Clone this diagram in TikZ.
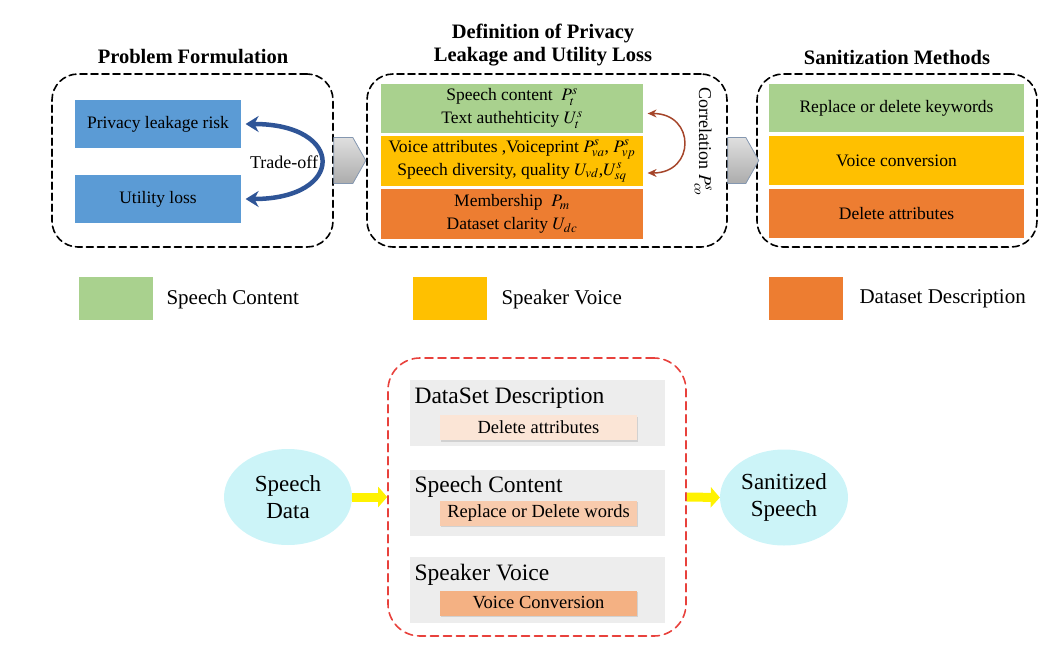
\documentclass[tikz,border=0pt]{standalone}
\usepackage{mathptmx}
\usepackage[no-math]{fontspec}
\setmainfont{Liberation Serif}
\usetikzlibrary{arrows.meta,shapes.geometric,shadows}
\definecolor{boxblue}{HTML}{5B9BD5}
\definecolor{tradeblue}{HTML}{2F5597}
\definecolor{boxgreen}{HTML}{A9D18E}
\definecolor{boxgold}{HTML}{FFC000}
\definecolor{boxorange}{HTML}{ED7D31}
\definecolor{corrbrown}{HTML}{A5452A}
\definecolor{dashred}{HTML}{E8413C}
\definecolor{panelgray}{HTML}{EDEDED}
\definecolor{peachA}{HTML}{FBE5D6}
\definecolor{peachB}{HTML}{F8CBAD}
\definecolor{peachC}{HTML}{F4B183}
\definecolor{ellcyan}{HTML}{CCF4F8}
\definecolor{pentline}{HTML}{8497B0}
\begin{document}
\begin{tikzpicture}[line cap=round,line join=round,x=1pt,y=-1pt,
	title/.style={font=\fontsize{20.5}{23}\selectfont\bfseries,align=center},
	frame/.style={draw,dashed,line width=1.6pt,dash pattern=on 7pt off 4pt,rounded corners=26pt},
	block/.style={draw=white,line width=1.2pt,inner sep=0pt,align=center,font=\fontsize{17.5}{20}\selectfont},
	legendbox/.style={inner sep=0pt,minimum width=74pt,minimum height=43pt},
	legendtext/.style={anchor=west,font=\fontsize{21}{24}\selectfont},
	panel/.style={fill=panelgray,inner sep=0pt,minimum width=255pt,minimum height=66pt},
	panelhead/.style={anchor=west,font=\fontsize{23.5}{26}\selectfont},
	subbox/.style={inner sep=0pt,minimum width=197pt,minimum height=25pt,font=\fontsize{18.5}{20}\selectfont,
		drop shadow={opacity=0.25,shadow xshift=1pt,shadow yshift=-1.5pt}},
	blob/.style={ellipse,fill=ellcyan,inner sep=0pt,minimum width=128pt,minimum height=96pt,align=center,font=\fontsize{23}{27}\selectfont},
	pent/.style={draw=pentline,line width=0.8pt,top color=gray!25,bottom color=gray!65},
	yarrow/.style={draw=yellow,line width=9pt,line cap=butt,-{Triangle[width=20pt,length=9pt]}}]
	\useasboundingbox (0,0) rectangle (1052,656);
	% titles
	\node[title] (tpf) at (193,57) {Problem Formulation};
	\node[title] (tdef) at (543,45) {Definition of Privacy\\Leakage and Utility Loss};
	\node[title] (tsm) at (897,57) {Sanitization Methods};
	% problem formulation
	\node[frame,minimum width=281pt,minimum height=173pt] (pf) at (192.5,160.5) {};
	\node[block,fill=boxblue,minimum width=168pt,minimum height=50pt] (risk) at (158,124) {Privacy leakage risk};
	\node[block,fill=boxblue,minimum width=168pt,minimum height=50pt] (loss) at (158,199) {Utility loss};
	\draw[tradeblue,line width=4.5pt,{Stealth[length=13pt,width=16pt]}-{Stealth[length=13pt,width=16pt]}]
		([xshift=3pt]risk.east) .. controls +(100,0) and +(100,0) .. ([xshift=3pt]loss.east);
	\node[font=\fontsize{18}{20}\selectfont] (trade) at (284,162) {Trade-off};
	% definition
	\node[frame,minimum width=360pt,minimum height=173pt] (def) at (547,160.5) {};
	\node[block,fill=boxgreen,minimum width=264pt,minimum height=50pt] (dsc) at (512,108.5)
		{Speech content~ $P_t^s$\\[3pt]Text authehticity $U_t^s$};
	\node[block,fill=boxgold,minimum width=264pt,minimum height=51pt] (dsv) at (512,161)
		{Voice attributes ,Voiceprint $P_{va}^s$, $P_{vp}^s$\\[3pt]Speech diversity, quality $U_{vd}$,$U_{sq}^s$};
	\node[block,fill=boxorange,minimum width=264pt,minimum height=51pt] (ddd) at (512,214)
		{Membership~ $P_m$\\[3pt]Dataset clarity $U_{dc}$};
	\draw[corrbrown,line width=1.5pt,{Stealth[length=9pt,width=8pt]}-{Stealth[length=9pt,width=8pt]}]
		([xshift=3pt,yshift=-5pt]dsc.east) .. controls +(48,0) and +(48,0) .. ([xshift=3pt,yshift=-12pt]dsv.east);
	\node[rotate=-90,font=\fontsize{18}{20}\selectfont] (corr) at (703,142) {Correlation $P_{co}^s$};
	% sanitization methods
	\node[frame,minimum width=280pt,minimum height=173pt] (sm) at (897,160.5) {};
	\node[block,fill=boxgreen,minimum width=257pt,minimum height=49pt] (kw) at (896.5,108) {Replace or delete keywords};
	\node[block,fill=boxgold,minimum width=257pt,minimum height=50pt] (vc) at (896.5,160.5) {Voice conversion};
	\node[block,fill=boxorange,minimum width=257pt,minimum height=50pt] (da) at (896.5,213.5) {Delete attributes};
	% connectors between frames
	\draw[pent] (pf.east) ++(0,-23) -- ++(19,0) -- ++(13,23) -- ++(-13,23) -- ++(-19,0) -- cycle;
	\draw[pent] (def.east) ++(0,-23) -- ++(18,0) -- ++(13,23) -- ++(-13,23) -- ++(-18,0) -- cycle;
	% legend
	\node[legendbox,fill=boxgreen] (lg) at (116,298.5) {};
	\node[legendtext] (lgt) at (163,299) {Speech Content};
	\node[legendbox,fill=boxgold] (ly) at (449.5,298.5) {};
	\node[legendtext] (lyt) at (498,299) {Speaker Voice};
	\node[legendbox,fill=boxorange] (lo) at (806,298.5) {};
	\node[legendtext] (lot) at (856,299) {Dataset Description};
	% pipeline
	\node[blob] (sdata) at (288,497) {Speech\\Data};
	\node[blob] (sspeech) at (784,497.5) {Sanitized\\Speech};
	\node[draw=dashred,dashed,line width=1.6pt,dash pattern=on 8pt off 5pt,rounded corners=32pt,
		minimum width=298pt,minimum height=278pt] (san) at (537,497) {};
	\node[panel] (pdd) at (537.5,413) {};
	\node[panelhead] (hdd) at (411,398) {DataSet Description};
	\node[subbox,fill=peachA] (sdd) at (538.5,427.5) {Delete attributes};
	\node[panel] (psc) at (537.5,502.5) {};
	\node[panelhead] (hsc) at (411,487) {Speech Content};
	\node[subbox,fill=peachB] (ssc) at (538.5,513) {Replace or Delete words};
	\node[panel] (psv) at (537.5,590) {};
	\node[panelhead] (hsv) at (411,575) {Speaker Voice};
	\node[subbox,fill=peachC] (ssv) at (538.5,603) {Voice Conversion};
	\draw[yarrow] (sdata.east) -- (san.west);
	\draw[yarrow] (san.east) -- (sspeech.west);
\end{tikzpicture}
\end{document}
